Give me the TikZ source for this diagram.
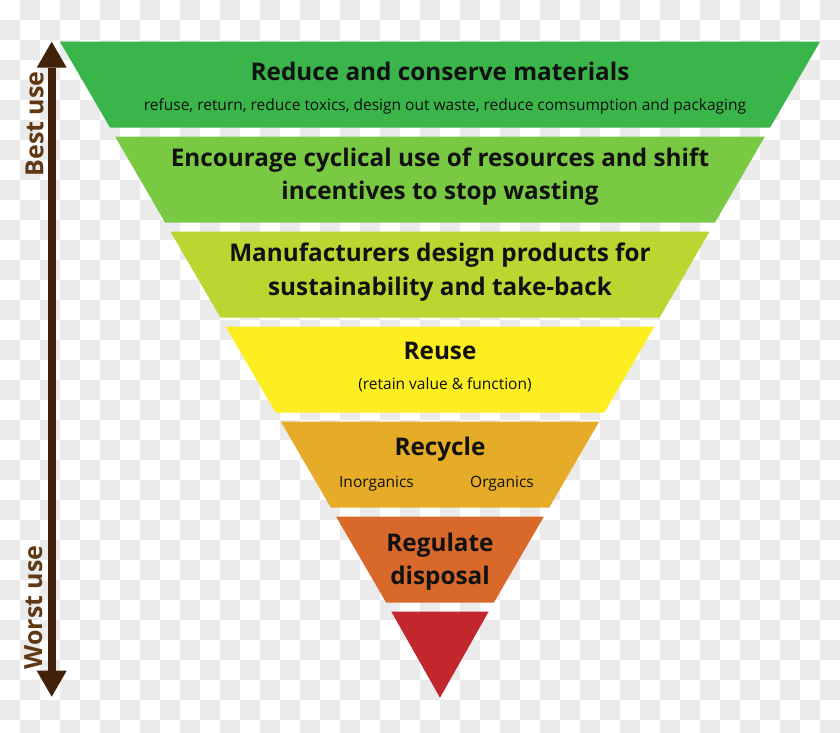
\documentclass[tikz,border=0pt]{standalone}
\usepackage{fontspec}
\setmainfont{Open Sans}
\IfFontExistsTF{Open Sans SemiBold}{\newfontfamily\labfont{Open Sans SemiBold}}{\newcommand\labfont{\bfseries}}
\usetikzlibrary{arrows.meta}
\definecolor{chk}{HTML}{EBEBEB}
\definecolor{bandA}{HTML}{39B54A}
\definecolor{bandB}{HTML}{7AC943}
\definecolor{bandC}{HTML}{BCD631}
\definecolor{bandD}{HTML}{FCEE21}
\definecolor{bandE}{HTML}{E6AB27}
\definecolor{bandF}{HTML}{D8692B}
\definecolor{bandG}{HTML}{C1272D}
\definecolor{arrowbrown}{HTML}{42210B}
\definecolor{textbrown}{HTML}{603813}
\definecolor{ink}{HTML}{111111}
\tikzset{
  title/.style={font=\labfont\fontsize{24.3}{33}\selectfont, text=ink, anchor=base, inner sep=0pt},
  sub/.style={font=\fontsize{15.5}{18}\selectfont, text=ink, anchor=base, inner sep=0pt},
  side/.style={font=\labfont\fontsize{25}{28}\selectfont, text=textbrown, anchor=base, rotate=90, inner sep=0pt},
  brtip/.tip={Triangle[width=30pt,length=26pt,line width=0pt]}
}
\begin{document}
\begin{tikzpicture}[x=1pt,y=-1pt]
\useasboundingbox (0,0) rectangle (840,732);
% checkerboard background
\fill[white] (0,0) rectangle (840,732);
\foreach \i in {0,...,41}{
  \foreach \j in {0,...,36}{
    \pgfmathtruncatemacro{\parity}{mod(\i+\j,2)}
    \ifnum\parity=1 \fill[chk] (\i*20,\j*20) rectangle ++(20,20);\fi
  }
}
% bands
\fill[bandA] (60,41.7) -- (820,41.7) -- (770,127.7) -- (110,127.7) -- cycle;
\fill[bandB] (115.2,136.7) -- (764.8,136.7) -- (714.8,222.7) -- (165.2,222.7) -- cycle;
\fill[bandC] (170.5,231.7) -- (709.5,231.7) -- (659.5,317.7) -- (220.5,317.7) -- cycle;
\fill[bandD] (225.7,326.7) -- (654.3,326.7) -- (604.3,412.7) -- (275.7,412.7) -- cycle;
\fill[bandE] (280.9,421.7) -- (599.1,421.7) -- (549.1,507.7) -- (330.9,507.7) -- cycle;
\fill[bandF] (336.2,516.7) -- (543.8,516.7) -- (493.8,602.7) -- (386.2,602.7) -- cycle;
\fill[bandG] (391.4,611.7) -- (488.6,611.7) -- (440,697.7) -- cycle;
% labels
\node[title] (t1) at (440,80) {Reduce and conserve materials};
\node[sub] (s1) at (445,110.5) {refuse, return, reduce toxics, design out waste, reduce comsumption and packaging};
\node[title] (t2a) at (440,166) {Encourage cyclical use of resources and shift};
\node[title] (t2b) at (440,199) {incentives to stop wasting};
\node[title] (t3a) at (440,261) {Manufacturers design products for};
\node[title] (t3b) at (440,295) {sustainability and take-back};
\node[title] (t4) at (440,359) {Reuse};
\node[sub] (s4) at (445,389) {(retain value \& function)};
\node[title] (t5) at (440,455) {Recycle};
\node[sub] (s5a) at (376.5,487) {Inorganics};
\node[sub] (s5b) at (502,487) {Organics};
\node[title] (t6a) at (440,551) {Regulate};
\node[title] (t6b) at (440,584) {disposal};
% side arrow
\coordinate (best) at (51.7,41.7);
\coordinate (worst) at (51.7,696.7);
\draw[arrowbrown, line width=8pt, {brtip}-{brtip}] (best) -- (worst);
\node[side] (bu) at (43.3,124) {Best use};
\node[side] (wu) at (42,607.5) {Worst use};
\end{tikzpicture}
\end{document}
